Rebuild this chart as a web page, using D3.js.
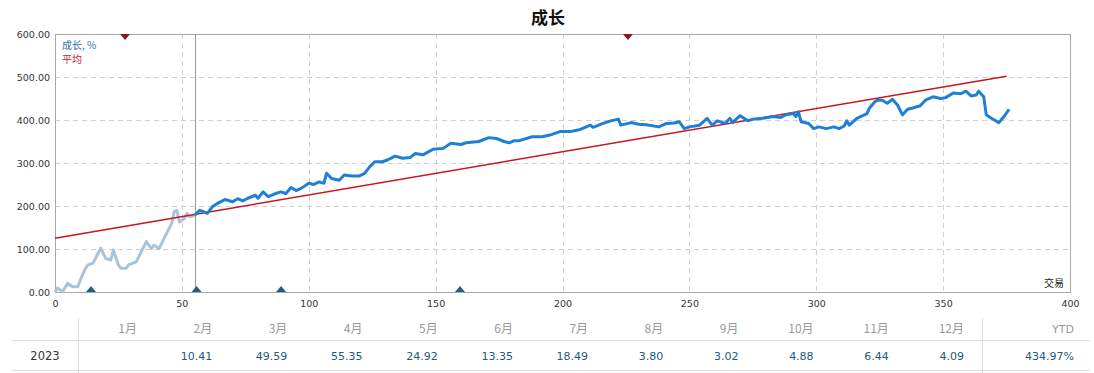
<!DOCTYPE html>
<html><head><meta charset="utf-8">
<script src="https://cdn.jsdelivr.net/npm/d3@7"></script>
<style>
html,body{margin:0;padding:0;background:#fff;}
svg{display:block;}
</style></head>
<body>
<svg id="chart" width="1094" height="373"></svg>
<script>
// ---- data ----
const title = "成长";
const legendGrowth = "成长, %";
const legendAvg = "平均";
const xAxisLabel = "交易";
const yTicks = [0, 100, 200, 300, 400, 500, 600];
const xTicks = [0, 50, 100, 150, 200, 250, 300, 350, 400];

const earlyTrades = [0,1,3,5,7,9,10,12,13,15,18,20,22,23,25,26,28,29,32,34,36,38,39,41,43,45,46,47,48,49,51,52,53,55];
const earlyValues = [0,9,1,20,12,12,28,55,63,67,102,78,74,98,63,55,55,63,70,94,117,101,109,101,125,148,160,187,190,163,171,183,175,178];

const growthTrades = [55,57,58,60,62,64,67,70,72,74,76,79,80,82,84,87,89,91,93,95,97,100,102,104,106,107,109,112,114,117,120,122,124,126,129,131,134,137,140,142,145,149,153,156,160,162,167,171,174,177,179,181,183,188,192,195,199,203,207,211,212,216,219,222,223,227,230,233,238,241,244,246,248,250,254,257,259,261,264,266,267,270,273,275,279,283,286,288,291,292,293,294,297,299,301,304,307,309,311,312,313,316,320,321,323,324,326,328,330,332,334,336,338,341,343,346,349,351,354,357,359,361,363,364,366,367,369,372,374,376];
const growthValues = [178,190,188,183,198,206,215,210,217,212,218,225,218,233,222,229,233,229,243,236,241,253,250,256,253,276,264,260,272,270,270,276,291,303,303,307,316,311,313,322,319,332,334,346,343,347,350,359,357,350,347,352,352,361,361,365,373,373,378,388,383,392,398,402,388,394,390,389,384,392,393,396,380,384,388,404,388,398,392,404,394,410,398,402,404,408,406,412,415,408,419,396,392,380,384,380,384,380,386,398,388,404,415,428,442,446,446,439,448,435,412,425,428,433,446,454,450,452,463,461,467,456,458,467,454,412,404,394,408,425];

const avgTrades = [0, 375];
const avgValues = [125, 502];

const splitTrade = 55;
const sellMarks = [27.6, 225.8];
const buyMarks = [14.2, 55.8, 89.1, 159.6];

const months = ["1月","2月","3月","4月","5月","6月","7月","8月","9月","10月","11月","12月"];
const yearLabel = "2023";
const monthValues = ["", "10.41", "49.59", "55.35", "24.92", "13.35", "18.49", "3.80", "3.02", "4.88", "6.44", "4.09"];
const ytdLabel = "YTD";
const ytdValue = "434.97%";

// ---- chart ----
const svg = d3.select("#chart");
const plot = {left: 55, right: 1070, top: 34, bottom: 292};
const numFont = "'DejaVu Sans', sans-serif";
const cjkFont = "'Noto Sans CJK SC', sans-serif";

const x = d3.scaleLinear().domain([0, 400]).range([plot.left, plot.right]);
const y = d3.scaleLinear().domain([0, 600]).range([plot.bottom, plot.top]);

// title
svg.append("text").attr("x", 548).attr("y", 24).attr("text-anchor", "middle")
  .attr("font-family", cjkFont).attr("font-weight", "bold").attr("font-size", 17)
  .attr("fill", "#111").text(title);

// grid
const g = svg.append("g");
g.selectAll(".hg").data(yTicks.slice(1, -1)).join("line")
  .attr("x1", plot.left).attr("x2", plot.right)
  .attr("y1", d => y(d) + 0.5).attr("y2", d => y(d) + 0.5)
  .attr("stroke", "#cfcfcf").attr("stroke-dasharray", "5,4");
g.selectAll(".vg").data(xTicks.slice(1, -1)).join("line")
  .attr("x1", d => Math.round(x(d)) + 0.5).attr("x2", d => Math.round(x(d)) + 0.5)
  .attr("y1", plot.top).attr("y2", plot.bottom)
  .attr("stroke", "#cfcfcf").attr("stroke-dasharray", "5,4");

// border
svg.append("rect").attr("x", plot.left + 0.5).attr("y", plot.top + 0.5)
  .attr("width", plot.right - plot.left).attr("height", plot.bottom - plot.top)
  .attr("fill", "none").attr("stroke", "#a8a8a8");

// y axis
const yAxis = d3.axisLeft(y).tickValues(yTicks).tickFormat(d3.format(".2f")).tickSize(0).tickPadding(5);
const ya = svg.append("g").attr("transform", `translate(${plot.left},0)`).call(yAxis);
ya.select(".domain").remove();
ya.selectAll("text").attr("font-family", numFont).attr("font-size", 9.5).attr("fill", "#333");

// x axis
const xAxis = d3.axisBottom(x).tickValues(xTicks).tickFormat(d3.format("d")).tickSize(0).tickPadding(8);
const xa = svg.append("g").attr("transform", `translate(0,${plot.bottom})`).call(xAxis);
xa.select(".domain").remove();
xa.selectAll("text").attr("font-family", numFont).attr("font-size", 9.5).attr("fill", "#333");

// split line
svg.append("line").attr("x1", Math.round(x(splitTrade)) + 0.5).attr("x2", Math.round(x(splitTrade)) + 0.5)
  .attr("y1", plot.top).attr("y2", plot.bottom).attr("stroke", "#999").attr("stroke-width", 1);

const line = d3.line().x(d => x(d[0])).y(d => y(d[1]));

svg.append("path").datum(d3.zip(earlyTrades, earlyValues)).attr("d", line)
  .attr("fill", "none").attr("stroke", "#a9c3da").attr("stroke-width", 3).attr("stroke-linejoin", "round");

svg.append("path").datum(d3.zip(avgTrades, avgValues)).attr("d", line)
  .attr("fill", "none").attr("stroke", "#c8161d").attr("stroke-width", 1.5);

svg.append("path").datum(d3.zip(growthTrades, growthValues)).attr("d", line)
  .attr("fill", "none").attr("stroke", "#1f7fd6").attr("stroke-width", 3).attr("stroke-linejoin", "round");

// markers
svg.selectAll(".sell").data(sellMarks).join("path")
  .attr("d", d => { const cx = x(d); return `M${cx - 5},${plot.top} L${cx + 5},${plot.top} L${cx},${plot.top + 6} Z`; })
  .attr("fill", "#8b1a1a");
svg.selectAll(".buy").data(buyMarks).join("path")
  .attr("d", d => { const cx = x(d); return `M${cx - 5},${plot.bottom} L${cx + 5},${plot.bottom} L${cx},${plot.bottom - 6} Z`; })
  .attr("fill", "#1c5f8c");

// legend
svg.append("text").attr("x", 62).attr("y", 49).attr("font-family", cjkFont).attr("font-size", 10)
  .attr("fill", "#2f74b5").text(legendGrowth);
svg.append("text").attr("x", 62).attr("y", 63).attr("font-family", cjkFont).attr("font-size", 10)
  .attr("fill", "#c0282d").text(legendAvg);

// x label
svg.append("text").attr("x", 1064).attr("y", 287).attr("text-anchor", "end")
  .attr("font-family", cjkFont).attr("font-size", 10).attr("fill", "#222").text(xAxisLabel);

// ---- table ----
const t = svg.append("g");
const colX = d3.scaleLinear().domain([0, 11]).range([137, 964]);
t.append("line").attr("x1", 12).attr("x2", 1090).attr("y1", 340.5).attr("y2", 340.5).attr("stroke", "#ddd");
t.append("line").attr("x1", 12).attr("x2", 1090).attr("y1", 370.5).attr("y2", 370.5).attr("stroke", "#ddd");
t.append("line").attr("x1", 78.5).attr("x2", 78.5).attr("y1", 318).attr("y2", 373).attr("stroke", "#ddd");
t.append("line").attr("x1", 982.5).attr("x2", 982.5).attr("y1", 318).attr("y2", 373).attr("stroke", "#ddd");

t.selectAll(".mh").data(months).join("text")
  .attr("x", (d, i) => colX(i)).attr("y", 333).attr("text-anchor", "end")
  .attr("font-family", cjkFont).attr("font-size", 12).attr("fill", "#999").text(d => d);
t.append("text").attr("x", 1074).attr("y", 333).attr("text-anchor", "end")
  .attr("font-family", numFont).attr("font-size", 11).attr("fill", "#999").text(ytdLabel);

t.append("text").attr("x", 45).attr("y", 360).attr("text-anchor", "middle")
  .attr("font-family", numFont).attr("font-size", 11.5).attr("fill", "#333").text(yearLabel);
t.selectAll(".mv").data(monthValues).join("text")
  .attr("x", (d, i) => colX(i)).attr("y", 360).attr("text-anchor", "end")
  .attr("font-family", numFont).attr("font-size", 11).attr("fill", "#1d5b80").text(d => d);
t.append("text").attr("x", 1074).attr("y", 360).attr("text-anchor", "end")
  .attr("font-family", numFont).attr("font-size", 11).attr("fill", "#1d5b80").text(ytdValue);
</script>
</body></html>
